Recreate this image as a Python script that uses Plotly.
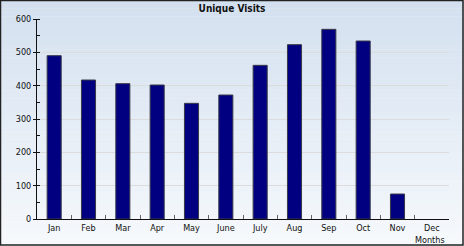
import plotly.graph_objects as go

months = ["Jan", "Feb", "Mar", "Apr", "May", "June", "July", "Aug", "Sep", "Oct", "Nov", "Dec"]
visits = [490, 417, 406, 402, 347, 372, 461, 523, 569, 534, 75, 0]
title_text = "Unique Visits"
x_title = "Months"

W, H = 464, 246
ML, MR, MT, MB = 37, 15, 19, 27
PW, PH = W - ML - MR, H - MT - MB

FONT = "DejaVu Sans Condensed, DejaVu Sans, sans-serif"

fig = go.Figure(go.Bar(
    x=months, y=visits,
    marker=dict(color="#000080",
                line=dict(color="#3a3a4a", width=[1 if v > 0 else 0 for v in visits])),
    hoverinfo="skip",
))

# gradient background bands (full figure, in paper coords)
shapes = []
n = 60
top = (211, 224, 239)
bot = (246, 249, 252)
fx0, fx1 = -ML / PW, (PW + MR) / PW
fy0, fy1 = -MB / PH, (PH + MT) / PH
for i in range(n):
    t = i / (n - 1)
    c = tuple(round(top[k] + (bot[k] - top[k]) * t) for k in range(3))
    y1 = fy1 - (fy1 - fy0) * i / n
    y0 = fy1 - (fy1 - fy0) * (i + 1) / n
    shapes.append(dict(type="rect", xref="paper", yref="paper", x0=fx0, x1=fx1, y0=y0 - 0.002, y1=y1,
                       fillcolor="rgb(%d,%d,%d)" % c, line=dict(width=0), layer="below"))
# outer frame
shapes.append(dict(type="rect", xref="paper", yref="paper",
                   x0=fx0 + 0.5 / PW, x1=fx1 - 1 / PW, y0=fy0 + 1 / PH, y1=fy1 - 0.5 / PH,
                   line=dict(color="#222222", width=1.5), fillcolor="rgba(0,0,0,0)", layer="above"))

fig.update_layout(
    width=W, height=H,
    margin=dict(l=ML, r=MR, t=MT, b=MB, pad=0),
    paper_bgcolor="#ffffff",
    plot_bgcolor="rgba(0,0,0,0)",
    bargap=0.59,
    showlegend=False,
    shapes=shapes,
    font=dict(family=FONT, size=9, color="#111111"),
    title=dict(text="<b>" + title_text + "</b>", x=0.5, xanchor="center", y=1 - 8 / H, yanchor="middle",
               font=dict(family=FONT, size=10, color="#111111")),
    annotations=[dict(text=x_title, xref="paper", yref="paper", x=(PW - 2) / PW, y=-21 / PH,
                      xanchor="right", yanchor="middle", showarrow=False,
                      font=dict(family=FONT, size=9, color="#111111"))],
    xaxis=dict(
        showline=True, linecolor="#111111", linewidth=1,
        ticks="inside", ticklen=4, tickcolor="#666666", tickson="boundaries",
        showgrid=False, tickfont=dict(size=9), range=[-0.5, 11.5],
        fixedrange=True,
    ),
    yaxis=dict(
        range=[0, 600], dtick=100, showline=True, linecolor="#111111", linewidth=1,
        ticks="outside", ticklen=3, tickcolor="#111111",
        minor=dict(dtick=50, ticks="inside", ticklen=3, tickcolor="#111111", showgrid=False),
        showgrid=True, gridcolor="#dcdcdc", gridwidth=1, zeroline=False,
        tickfont=dict(size=9), fixedrange=True,
    ),
)

fig.write_html("out.html")
